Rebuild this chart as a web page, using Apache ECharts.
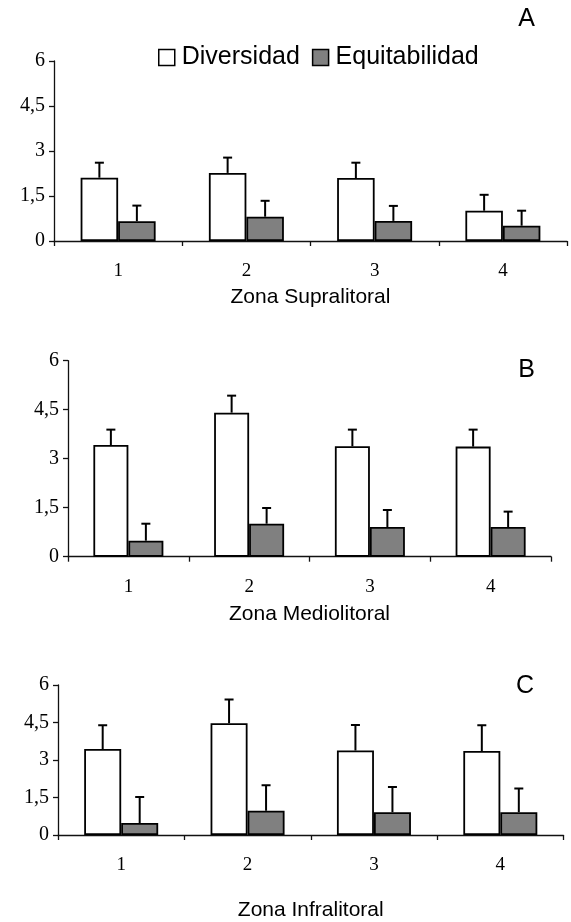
<!DOCTYPE html>
<html>
<head>
<meta charset="utf-8">
<script src="https://cdn.jsdelivr.net/npm/echarts@6/dist/echarts.min.js"></script>
<style>
html,body{margin:0;padding:0;background:#fff;}
#chart{width:571px;height:922px;}
</style>
</head>
<body>
<div id="chart"></div>
<script>
// ---- data ----
const categories = ['1', '2', '3', '4'];
const yTickValues = [0, 1.5, 3, 4.5, 6];
const yTickLabels = ['0', '1,5', '3', '4,5', '6'];
const seriesNames = ['Diversidad', 'Equitabilidad'];
const zoneTitles = ['Zona Supralitoral', 'Zona Mediolitoral', 'Zona Infralitoral'];
const panelLetters = ['A', 'B', 'C'];

// Panel A (Zona Supralitoral)
const divA = [2.11, 2.27, 2.10, 1.01];
const divATop = [2.61, 2.78, 2.61, 1.54];
const eqA = [0.66, 0.81, 0.67, 0.51];
const eqATop = [1.18, 1.34, 1.17, 1.01];
// Panel B (Zona Mediolitoral)
const divB = [3.42, 4.41, 3.38, 3.37];
const divBTop = [3.89, 4.93, 3.89, 3.89];
const eqB = [0.49, 1.01, 0.91, 0.91];
const eqBTop = [1.01, 1.49, 1.43, 1.38];
// Panel C (Zona Infralitoral)
const divC = [3.44, 4.47, 3.38, 3.36];
const divCTop = [4.39, 5.42, 4.40, 4.39];
const eqC = [0.48, 0.97, 0.91, 0.91];
const eqCTop = [1.52, 1.99, 1.92, 1.86];

// ---- layout / style ----
const panels = [
  { div: divA, divTop: divATop, eq: eqA, eqTop: eqATop,
    grid: { left: 54, top: 61, width: 513, height: 180 }, barWidth: 37.5, nameGap: 46,
    letterPos: [526.5, 19.5] },
  { div: divB, divTop: divBTop, eq: eqB, eqTop: eqBTop,
    grid: { left: 68, top: 360.7, width: 483, height: 196 }, barWidth: 35, nameGap: 47,
    letterPos: [526.5, 370.5] },
  { div: divC, divTop: divCTop, eq: eqC, eqTop: eqCTop,
    grid: { left: 58, top: 685, width: 505.5, height: 154 }, barWidth: 37, nameGap: 65,
    letterPos: [525, 686.5] }
];
const SANS = 'Liberation Sans, Arial, sans-serif';
const SERIF = 'Liberation Serif, Times New Roman, serif';
const AXIS_COLOR = '#111';
const BAR_COLORS = ['#ffffff', '#808080'];

function errRender(sign, bw) {
  return function (params, api) {
    const cat = api.value(0), mean = api.value(1), top = api.value(2);
    const p0 = api.coord([cat, mean]);
    const p1 = api.coord([cat, top]);
    const x = p0[0] + sign * bw / 2;
    return {
      type: 'group',
      children: [
        { type: 'line', shape: { x1: x, y1: p0[1], x2: x, y2: p1[1] }, style: { stroke: '#000', lineWidth: 2 } },
        { type: 'line', shape: { x1: x - 4.5, y1: p1[1], x2: x + 4.5, y2: p1[1] }, style: { stroke: '#000', lineWidth: 2 } }
      ]
    };
  };
}

const grids = [], xAxes = [], yAxes = [], series = [], graphics = [];
panels.forEach((p, i) => {
  grids.push(Object.assign({ containLabel: false }, p.grid));
  xAxes.push({
    type: 'category', gridIndex: i, data: categories, boundaryGap: true,
    name: zoneTitles[i], nameLocation: 'middle', nameGap: p.nameGap,
    nameTextStyle: { fontFamily: SANS, fontSize: 21, color: '#000' },
    axisLine: { show: true, lineStyle: { color: AXIS_COLOR, width: 1.3 } },
    axisTick: { show: true, length: 5, lineStyle: { color: AXIS_COLOR, width: 1.3 } },
    axisLabel: { fontFamily: SERIF, fontSize: 19, color: '#000', margin: 21 },
    splitLine: { show: false }
  });
  yAxes.push({
    type: 'value', gridIndex: i, min: 0, max: 6, interval: 1.5,
    axisLine: { show: true, lineStyle: { color: AXIS_COLOR, width: 1.3 } },
    axisTick: { show: true, length: 5, lineStyle: { color: AXIS_COLOR, width: 1.3 } },
    axisLabel: {
      fontFamily: SERIF, fontSize: 20, color: '#000', margin: 9,
      formatter: v => { const k = yTickValues.indexOf(v); return k >= 0 ? yTickLabels[k] : ''; }
    },
    splitLine: { show: false }
  });
  const vals = [p.div, p.eq];
  const tops = [p.divTop, p.eqTop];
  seriesNames.forEach((nm, s) => {
    series.push({
      type: 'bar', name: nm, xAxisIndex: i, yAxisIndex: i,
      data: vals[s], barWidth: p.barWidth, barGap: '0%',
      itemStyle: { color: BAR_COLORS[s], borderColor: '#000', borderWidth: 1.8 },
      emphasis: { disabled: true }, silent: true, z: 2
    });
  });
  seriesNames.forEach((nm, s) => {
    series.push({
      type: 'custom', xAxisIndex: i, yAxisIndex: i,
      renderItem: errRender(s === 0 ? -1 : 1, p.barWidth),
      data: categories.map((c, k) => [k, vals[s][k], tops[s][k]]),
      encode: { x: 0, y: [1, 2] }, z: 1, silent: true
    });
  });
  graphics.push({
    type: 'text', x: p.letterPos[0], y: p.letterPos[1],
    style: { text: panelLetters[i], font: '25px ' + SANS, fill: '#000', textAlign: 'center', textVerticalAlign: 'middle' }
  });
});

const chart = echarts.init(document.getElementById('chart'), null, { renderer: 'canvas' });
chart.setOption({
  animation: false,
  backgroundColor: '#fff',
  grid: grids,
  xAxis: xAxes,
  yAxis: yAxes,
  legend: {
    data: seriesNames, left: 153, top: 40, icon: 'rect', itemWidth: 16, itemHeight: 16,
    itemGap: 12, selectedMode: false,
    itemStyle: { borderColor: '#000', borderWidth: 1.5 },
    textStyle: { fontFamily: SANS, fontSize: 25, color: '#000', padding: [0, 0, 0, 2] }
  },
  series: series,
  graphic: graphics
});
</script>
</body>
</html>
